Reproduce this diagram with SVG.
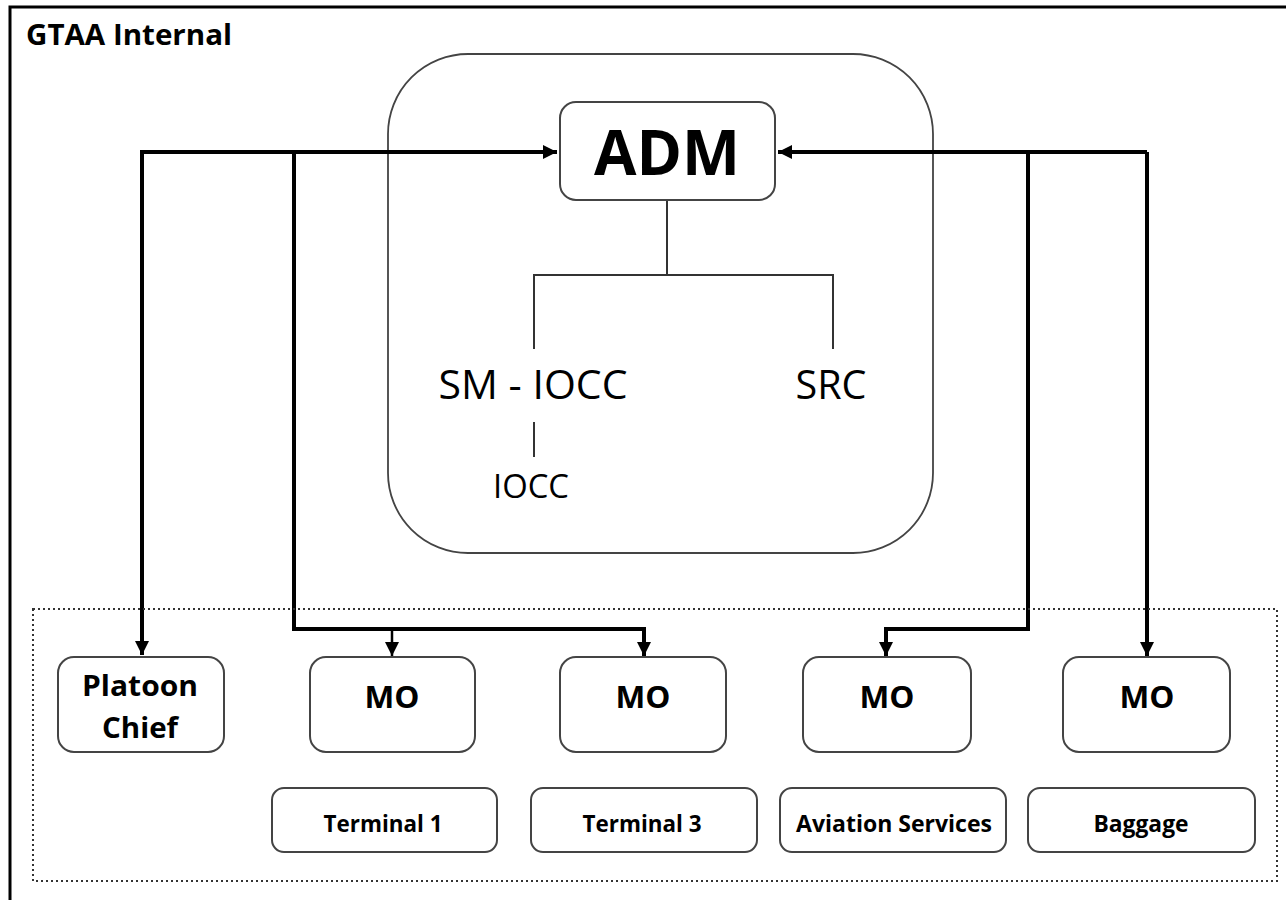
<svg xmlns="http://www.w3.org/2000/svg" width="1286" height="900" viewBox="0 0 1286 900">
<style>
  .t { font-family: "Open Sans", "Noto Sans", "Liberation Sans", sans-serif; fill: #000; text-anchor: middle; }
  .s { text-anchor: start; }
  .b { font-weight: bold; }
  .box { fill: #fff; stroke: #444; stroke-width: 2; }
  .thin { fill: none; stroke: #333; stroke-width: 2; }
  .conn { fill: none; stroke: #000; stroke-width: 4; stroke-linejoin: miter; }
  .conn2 { fill: none; stroke: #000; stroke-width: 2.5; }
</style>
<defs>
  <marker id="ah" viewBox="0 0 10 10" refX="10" refY="5" markerWidth="15" markerHeight="14" markerUnits="userSpaceOnUse" orient="auto">
    <path d="M0,0 L10,5 L0,10 z" fill="#000"/>
  </marker>
</defs>
<rect width="1286" height="900" fill="#fff"/>

<g id="frame">
  <rect x="10" y="7" width="1300" height="910" fill="none" stroke="#000" stroke-width="3"/>
  <text class="t s b" x="26" y="45" font-size="28" textLength="206" lengthAdjust="spacingAndGlyphs">GTAA Internal</text>
</g>

<g id="adm-group">
  <rect x="388" y="54" width="545" height="499" rx="80" ry="80" fill="none" stroke="#444" stroke-width="1.8"/>
</g>

<g id="connectors">
  <path class="thin" d="M667,200 V275 M534,349 V275 H833 V349"/>
  <path class="thin" d="M534,422 V457"/>
  <path class="conn" d="M142,655 V152 H557" marker-end="url(#ah)"/>
  <path class="conn" d="M142,152 V655" marker-end="url(#ah)"/>
  <path class="conn" d="M294,152 V629 H644 V656" marker-end="url(#ah)"/>
  <path class="conn2" d="M392,629 V656" marker-end="url(#ah)"/>
  <path class="conn" d="M1147,152 H778" marker-end="url(#ah)"/>
  <path class="conn" d="M1147,152 V656" marker-end="url(#ah)"/>
  <path class="conn" d="M1028,152 V629 H886 V656" marker-end="url(#ah)"/>
</g>

<g id="adm">
  <rect class="box" x="560" y="102" width="215" height="98" rx="16" ry="16"/>
  <text class="t b" x="667" y="175" font-size="63" textLength="146" lengthAdjust="spacingAndGlyphs">ADM</text>
</g>
<g id="sm-iocc">
  <text class="t" x="533" y="399" font-size="40" textLength="189" lengthAdjust="spacingAndGlyphs">SM - IOCC</text>
</g>
<g id="src">
  <text class="t" x="831" y="399" font-size="40" textLength="71" lengthAdjust="spacingAndGlyphs">SRC</text>
</g>
<g id="iocc">
  <text class="t" x="531" y="498" font-size="33" textLength="76" lengthAdjust="spacingAndGlyphs">IOCC</text>
</g>

<g id="operations">
  <rect x="33" y="609" width="1244" height="272" fill="none" stroke="#333" stroke-width="2" stroke-dasharray="2 3"/>
</g>

<g id="platoon-chief">
  <rect class="box" x="58" y="657" width="166" height="95" rx="16" ry="16"/>
  <text class="t b" x="140" y="696" font-size="29" textLength="116" lengthAdjust="spacingAndGlyphs">Platoon</text>
  <text class="t b" x="140" y="738" font-size="29" textLength="76" lengthAdjust="spacingAndGlyphs">Chief</text>
</g>
<g id="mo1">
  <rect class="box" x="310" y="657" width="165" height="95" rx="16" ry="16"/>
  <text class="t b" x="392" y="708" font-size="31" textLength="55" lengthAdjust="spacingAndGlyphs">MO</text>
</g>
<g id="mo2">
  <rect class="box" x="560" y="657" width="166" height="95" rx="16" ry="16"/>
  <text class="t b" x="643" y="708" font-size="31" textLength="55" lengthAdjust="spacingAndGlyphs">MO</text>
</g>
<g id="mo3">
  <rect class="box" x="803" y="657" width="168" height="95" rx="16" ry="16"/>
  <text class="t b" x="887" y="708" font-size="31" textLength="55" lengthAdjust="spacingAndGlyphs">MO</text>
</g>
<g id="mo4">
  <rect class="box" x="1063" y="657" width="167" height="95" rx="16" ry="16"/>
  <text class="t b" x="1147" y="708" font-size="31" textLength="55" lengthAdjust="spacingAndGlyphs">MO</text>
</g>

<g id="terminal1">
  <rect class="box" x="272" y="788" width="225" height="64" rx="12" ry="12"/>
  <text class="t b" x="383" y="832" font-size="24" textLength="119" lengthAdjust="spacingAndGlyphs">Terminal 1</text>
</g>
<g id="terminal3">
  <rect class="box" x="531" y="788" width="226" height="64" rx="12" ry="12"/>
  <text class="t b" x="642" y="832" font-size="24" textLength="119" lengthAdjust="spacingAndGlyphs">Terminal 3</text>
</g>
<g id="aviation-services">
  <rect class="box" x="780" y="788" width="226" height="64" rx="12" ry="12"/>
  <text class="t b" x="894" y="832" font-size="24" textLength="196" lengthAdjust="spacingAndGlyphs">Aviation Services</text>
</g>
<g id="baggage">
  <rect class="box" x="1028" y="788" width="227" height="64" rx="12" ry="12"/>
  <text class="t b" x="1141" y="832" font-size="24" textLength="95" lengthAdjust="spacingAndGlyphs">Baggage</text>
</g>
</svg>
